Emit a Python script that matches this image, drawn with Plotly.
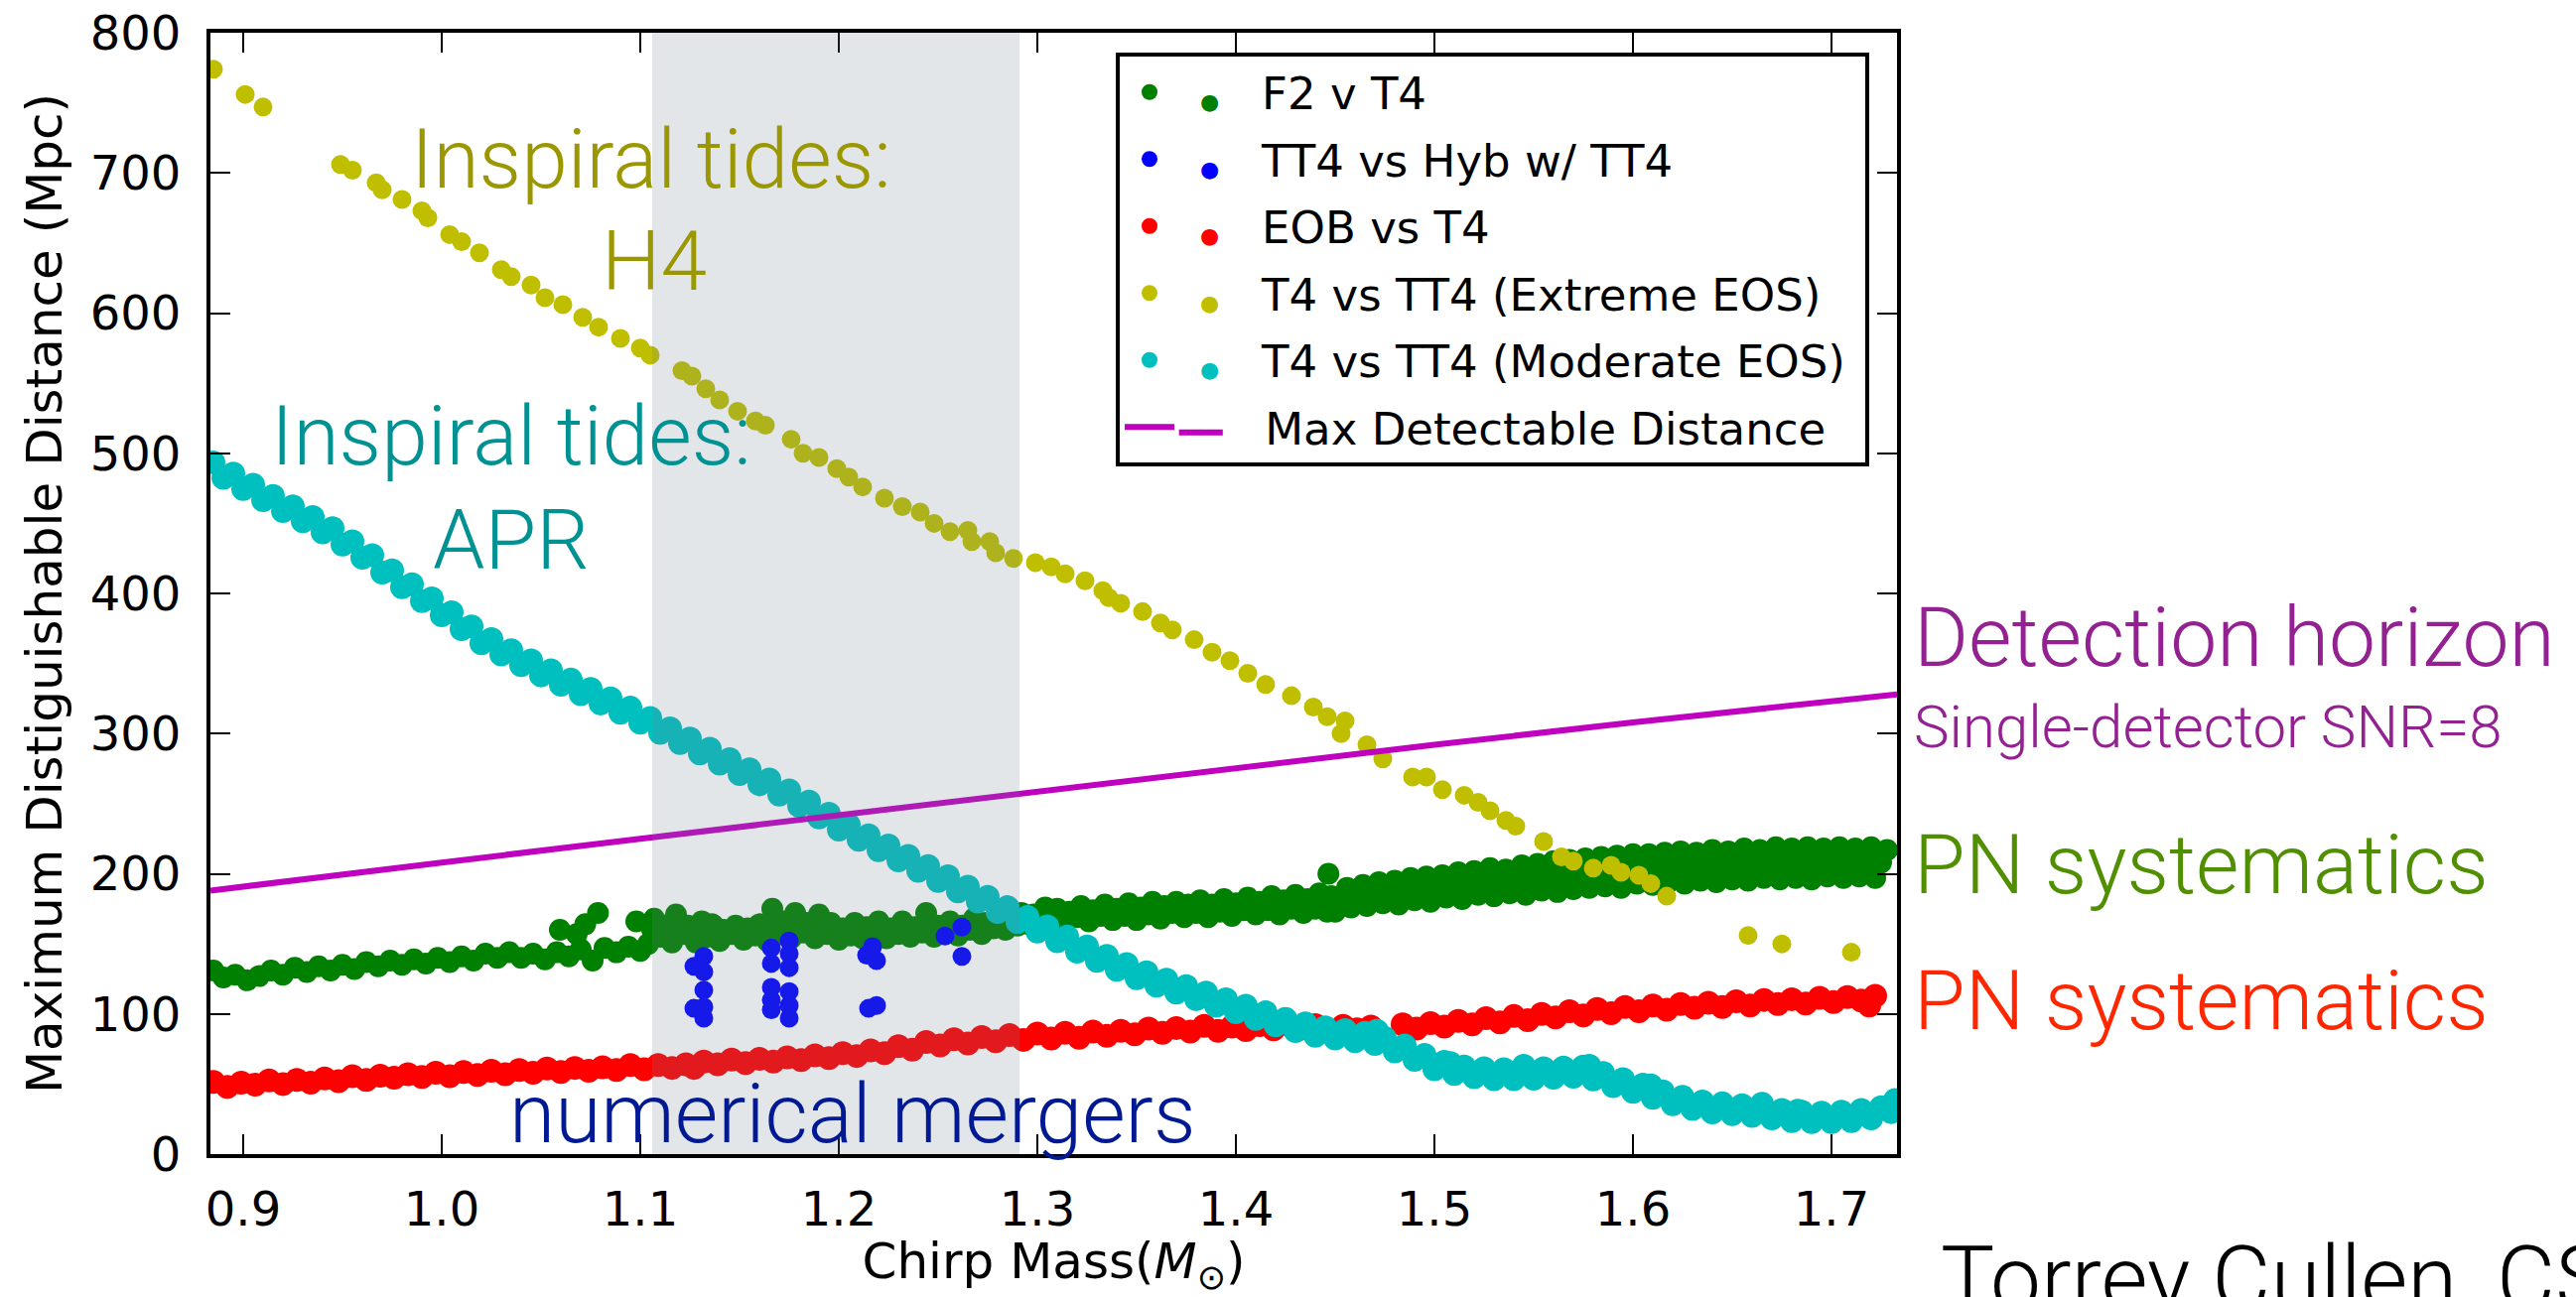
import plotly.graph_objects as go

# ---------------- data ----------------
x_ticks = [0.9, 1.0, 1.1, 1.2, 1.3, 1.4, 1.5, 1.6, 1.7]
y_ticks = [0, 100, 200, 300, 400, 500, 600, 700, 800]
x_range = [0.8835, 1.733]
y_range = [0, 800]
shade_range = [1.106, 1.291]

# F2 v T4 (green) - band, read as several stretches
green_x_left = [0.885, 0.890, 0.896, 0.902, 0.908, 0.914, 0.920, 0.926, 0.932, 0.938,
                0.944, 0.950, 0.956, 0.962, 0.968, 0.974, 0.980, 0.986, 0.992, 0.998,
                1.004, 1.010, 1.016, 1.022, 1.028, 1.034, 1.040, 1.046, 1.052, 1.058,
                1.064, 1.070, 1.076, 1.082, 1.088, 1.094, 1.100]
green_y_left = [131, 126, 128, 124, 127, 131, 128, 133, 130, 134,
                131, 135, 132, 137, 134, 138, 135, 139, 136, 140,
                137, 141, 138, 143, 140, 144, 140, 143, 139, 144,
                141, 146, 138, 147, 144, 148, 145]
green_x_mid = [1.104, 1.106, 1.110, 1.112, 1.116, 1.118, 1.122, 1.124, 1.128, 1.130,
               1.134, 1.136, 1.140, 1.142, 1.146, 1.148, 1.152, 1.154, 1.158, 1.160,
               1.164, 1.166, 1.170, 1.172, 1.176, 1.178, 1.182, 1.184, 1.188, 1.190,
               1.194, 1.196, 1.200, 1.202, 1.206, 1.208, 1.212, 1.214, 1.218, 1.220,
               1.224, 1.226, 1.230, 1.232, 1.236, 1.238, 1.242, 1.244, 1.248, 1.250,
               1.254, 1.256, 1.260, 1.262, 1.266, 1.268, 1.272, 1.274, 1.278, 1.280,
               1.284, 1.286, 1.290, 1.292, 1.296, 1.298]
green_y_mid = [150, 160, 155, 163, 151, 159, 157, 163, 151, 160,
               155, 164, 152, 160, 157, 163, 153, 161, 156, 164,
               152, 161, 157, 166, 154, 162, 158, 165, 154, 161,
               157, 165, 153, 161, 156, 165, 154, 162, 158, 166,
               154, 161, 157, 166, 155, 162, 158, 166, 155, 163,
               159, 166, 156, 163, 160, 168, 157, 165, 161, 170,
               160, 168, 163, 172, 164, 171]
green_x_r1 = [1.302, 1.304, 1.308, 1.310, 1.314, 1.316, 1.320, 1.322, 1.326, 1.328,
              1.332, 1.334, 1.338, 1.340, 1.344, 1.346, 1.350, 1.352, 1.356, 1.358,
              1.362, 1.364, 1.368, 1.370, 1.374, 1.376, 1.380, 1.382, 1.386, 1.388,
              1.392, 1.394, 1.398, 1.400, 1.404, 1.406, 1.410, 1.412, 1.416, 1.418,
              1.422, 1.424, 1.428, 1.430, 1.434, 1.436, 1.440, 1.442, 1.446, 1.448]
green_y_r1 = [166, 176, 168, 175, 165, 173, 169, 177, 166, 174,
              170, 178, 167, 175, 170, 179, 167, 176, 171, 180,
              168, 177, 172, 180, 169, 178, 172, 181, 169, 178,
              173, 182, 170, 179, 174, 183, 171, 180, 174, 184,
              171, 181, 175, 185, 172, 182, 175, 186, 173, 184]
green_x_r2 = [1.450, 1.453, 1.456, 1.458, 1.461, 1.464, 1.466, 1.469, 1.472,
              1.474, 1.477, 1.480, 1.482, 1.485, 1.488, 1.490, 1.493, 1.496,
              1.498, 1.501, 1.504, 1.506, 1.509, 1.512, 1.514, 1.517, 1.520,
              1.522, 1.525, 1.528, 1.530, 1.533, 1.536, 1.538, 1.541, 1.544,
              1.546, 1.549, 1.552, 1.554, 1.557, 1.560, 1.562, 1.565, 1.568,
              1.570, 1.573, 1.576, 1.578, 1.581, 1.584, 1.586, 1.589, 1.592,
              1.594, 1.597, 1.600, 1.602, 1.605, 1.608, 1.610, 1.613, 1.616,
              1.618, 1.621, 1.624, 1.626, 1.629, 1.632, 1.634, 1.637, 1.640,
              1.642, 1.645, 1.648, 1.650, 1.653, 1.656, 1.658, 1.661, 1.664,
              1.666, 1.669, 1.672, 1.674, 1.677, 1.680, 1.682, 1.685, 1.688,
              1.690, 1.693, 1.696, 1.698, 1.701, 1.704, 1.706, 1.709, 1.712,
              1.714, 1.717, 1.720, 1.722, 1.725, 1.728]
green_y_r2 = [173, 182, 190, 176, 185, 192, 177, 186, 194,
              179, 188, 195, 178, 189, 197, 181, 190, 198,
              180, 191, 199, 183, 192, 201, 182, 193, 202,
              185, 194, 204, 184, 195, 203, 186, 196, 206,
              185, 197, 207, 188, 198, 209, 187, 199, 210,
              189, 200, 211, 190, 201, 212, 191, 202, 213,
              190, 203, 214, 193, 204, 214, 192, 203, 215,
              194, 205, 216, 193, 204, 215, 195, 206, 217,
              194, 205, 216, 196, 207, 218, 195, 206, 217,
              197, 207, 219, 196, 208, 218, 197, 207, 219,
              196, 208, 218, 198, 207, 219, 197, 208, 218,
              198, 207, 219, 197, 208, 217]
green_x_out = [1.0595, 1.068, 1.0723, 1.0787, 1.098, 1.107, 1.118, 1.131, 1.137,
               1.1665, 1.178, 1.190, 1.244, 1.4466]
green_y_out = [160, 157, 164, 172, 166, 168, 171, 166, 163,
               175, 172, 171, 172, 200]

# TT4 vs Hyb w/ TT4 (blue)
blue_x = [1.127, 1.132, 1.132, 1.132, 1.127, 1.132, 1.132,
          1.175, 1.166, 1.175, 1.166, 1.175, 1.166, 1.175, 1.166, 1.175, 1.166, 1.175,
          1.217, 1.214, 1.219, 1.215, 1.219,
          1.2535, 1.262, 1.262]
blue_y = [134, 141, 130, 117, 104, 105, 97,
          152, 147, 143, 136, 133, 119, 116, 110, 106, 103, 97,
          148, 142, 138, 104, 106,
          155.5, 162, 141]

# EOB vs T4 (red)
red_x = [0.885, 0.892, 0.899, 0.906, 0.913, 0.920, 0.927, 0.934, 0.941, 0.948,
         0.955, 0.962, 0.969, 0.976, 0.983, 0.990, 0.997, 1.004, 1.011, 1.018,
         1.025, 1.032, 1.039, 1.046, 1.053, 1.060, 1.067, 1.074, 1.081, 1.088,
         1.095, 1.102, 1.109, 1.116, 1.123, 1.127,
         1.132, 1.139, 1.146, 1.153, 1.160, 1.167, 1.174, 1.181, 1.188, 1.195,
         1.202, 1.209, 1.216, 1.223, 1.230, 1.237, 1.244, 1.251, 1.258, 1.265,
         1.272, 1.279, 1.286, 1.293, 1.300, 1.307, 1.314, 1.321, 1.328, 1.335,
         1.342, 1.349, 1.356, 1.363, 1.370, 1.377, 1.384, 1.391, 1.398, 1.405,
         1.412, 1.419, 1.426, 1.433, 1.440, 1.447, 1.454, 1.461, 1.468,
         1.484, 1.491, 1.498, 1.505, 1.512, 1.519, 1.526, 1.533, 1.540, 1.547,
         1.554, 1.561, 1.568, 1.575, 1.582, 1.589, 1.596, 1.603, 1.610, 1.617,
         1.624, 1.631, 1.638, 1.645, 1.652, 1.659, 1.666, 1.673, 1.680, 1.687,
         1.694, 1.701, 1.708, 1.715, 1.719, 1.722]
red_y = [51.5, 48.0, 51.0, 49.5, 52.5, 50.0, 53.0, 51.0, 54.0, 52.0,
         55.5, 53.0, 56.0, 54.5, 57.0, 55.0, 58.0, 55.5, 58.5, 56.5,
         59.5, 57.0, 60.0, 58.0, 61.0, 58.5, 61.5, 59.5, 62.0, 60.0,
         63.5, 60.5, 63.5, 61.5, 64.0, 61.5,
         66.0, 64.0, 67.5, 65.0, 68.0, 66.0, 69.0, 67.0, 70.5, 68.5,
         72.0, 70.0, 74.0, 72.0, 77.0, 74.5, 80.0, 77.5, 82.0, 79.0,
         83.5, 80.5, 85.0, 81.5, 86.0, 82.5, 86.5, 83.0, 87.5, 84.5,
         88.0, 85.5, 89.5, 86.5, 90.0, 87.5, 91.5, 88.0, 91.0, 88.5,
         92.0, 89.0, 92.5, 89.5, 92.0, 88.5, 91.5, 89.0, 91.0,
         92.5, 89.5, 93.5, 91.0, 95.0, 92.5, 97.0, 94.0, 98.5, 95.5,
         100.0, 97.5, 102.0, 99.0, 103.5, 100.5, 105.0, 102.0, 106.0, 103.0,
         107.0, 104.5, 108.0, 105.0, 109.0, 106.0, 110.0, 107.0, 110.5, 107.5,
         111.5, 108.5, 112.0, 109.5, 106.0, 113.0]

# T4 vs TT4 (Extreme EOS) (yellow)
yellow_x = [0.885, 0.901, 0.910, 0.949, 0.955, 0.967, 0.970, 0.980, 0.990, 0.993,
            1.004, 1.010, 1.019, 1.030, 1.035, 1.045, 1.052, 1.061, 1.071, 1.079,
            1.090, 1.100, 1.105, 1.121, 1.126, 1.133, 1.140, 1.149, 1.158, 1.163,
            1.176, 1.182, 1.190, 1.199, 1.205, 1.212, 1.223, 1.232, 1.241, 1.248,
            1.256, 1.265, 1.267, 1.276, 1.279, 1.288, 1.299, 1.307, 1.314, 1.324,
            1.333, 1.336, 1.342, 1.353, 1.362, 1.368, 1.379, 1.388, 1.397, 1.406,
            1.415, 1.428, 1.439, 1.446, 1.453, 1.455, 1.466, 1.474, 1.489, 1.496,
            1.504, 1.515, 1.522, 1.528, 1.536, 1.541, 1.555, 1.564, 1.570, 1.580,
            1.589, 1.594, 1.603, 1.609, 1.617, 1.658, 1.675, 1.710]
yellow_y = [774, 756, 747, 706, 702, 693, 688, 681, 673, 668,
            656, 651, 643, 631, 626, 620, 611, 606, 597, 590,
            582, 575, 570, 559, 555, 546, 538, 530, 523, 520,
            510, 500, 497, 489, 483, 476, 468, 462, 458, 450,
            444, 445, 437, 437, 429, 425, 422, 419, 414, 409,
            402, 397, 393, 387, 379, 374, 367, 358, 352, 343,
            335, 327, 319, 312, 300, 309, 292, 282, 269, 269,
            260, 256, 251, 245, 238, 234, 223, 212, 209, 204,
            206, 201, 199, 193, 184, 156, 150, 144]

# T4 vs TT4 (Moderate EOS) (cyan)
cyan_x = [0.885, 0.890, 0.895, 0.900, 0.905, 0.910, 0.915, 0.920, 0.925, 0.930,
          0.935, 0.940, 0.945, 0.950, 0.955, 0.960, 0.965, 0.970, 0.975, 0.980,
          0.985, 0.990, 0.995, 1.000, 1.005, 1.010, 1.015, 1.020, 1.025, 1.030,
          1.035, 1.040, 1.045, 1.050, 1.055, 1.060, 1.065, 1.070, 1.075, 1.080,
          1.085, 1.090, 1.095, 1.100, 1.105, 1.110, 1.115, 1.120, 1.125, 1.130,
          1.135, 1.140, 1.145, 1.150, 1.155, 1.160, 1.165, 1.170, 1.175, 1.180,
          1.185, 1.190, 1.195, 1.200, 1.205, 1.210, 1.215, 1.220, 1.225, 1.230,
          1.235, 1.240, 1.245, 1.250, 1.255, 1.260, 1.265, 1.270, 1.275, 1.280,
          1.285, 1.290, 1.295, 1.300, 1.305, 1.310, 1.315, 1.320, 1.325, 1.330,
          1.335, 1.340, 1.345, 1.350, 1.355, 1.360, 1.365, 1.370, 1.375, 1.380,
          1.385, 1.390, 1.395, 1.400, 1.405, 1.410, 1.415, 1.420, 1.425, 1.430,
          1.435, 1.440, 1.445, 1.450, 1.455, 1.460, 1.465, 1.470, 1.475, 1.480,
          1.485, 1.490, 1.495, 1.500, 1.505, 1.510, 1.515, 1.520, 1.525, 1.530,
          1.535, 1.540, 1.545, 1.550, 1.555, 1.560, 1.565, 1.570, 1.575, 1.580,
          1.585, 1.590, 1.595, 1.600, 1.605, 1.610, 1.615, 1.620, 1.625, 1.630,
          1.635, 1.640, 1.645, 1.650, 1.655, 1.660, 1.665, 1.670, 1.675, 1.680,
          1.685, 1.690, 1.695, 1.700, 1.705, 1.710, 1.715, 1.720, 1.725, 1.730,
          1.732, 1.471, 1.508, 1.545, 1.578, 1.609, 1.665, 1.683]
cyan_y = [493.5, 482.5, 485.5, 474.5, 477.5, 466.5, 469.5, 458.8, 462.2, 451.5,
          454.5, 443.5, 446.5, 434.8, 437.2, 425.5, 427.2, 414.8, 416.5, 404.5,
          406.5, 394.5, 396.5, 384.5, 386.5, 374.5, 376.5, 364.5, 367.5, 356.5,
          359.5, 348.8, 352.2, 341.5, 345.2, 334.8, 338.5, 328.2, 331.8, 321.5,
          325.2, 314.8, 318.5, 307.8, 311.2, 300.5, 303.8, 293.2, 296.5, 285.8,
          289.2, 278.5, 281.8, 271.2, 274.5, 263.8, 267.2, 256.5, 259.5, 248.5,
          251.5, 240.2, 242.8, 231.5, 234.8, 224.2, 227.5, 216.8, 220.2, 209.5,
          212.8, 202.2, 205.5, 194.8, 198.2, 187.5, 190.8, 180.2, 183.5, 172.8,
          176.2, 165.5, 169.2, 158.8, 162.5, 151.8, 155.2, 144.5, 148.2, 137.8,
          141.5, 131.5, 135.5, 125.5, 129.8, 120.2, 124.5, 115.2, 119.8, 110.5,
          115.2, 105.8, 110.5, 101.2, 105.8, 96.5, 101.2, 91.8, 96.5, 87.8,
          93.2, 84.5, 90.5, 82.5, 88.5, 80.5, 86.5, 78.5, 82.8, 73.2,
          77.5, 67.2, 70.8, 60.5, 65.8, 57.2, 62.5, 54.8, 61.2, 53.5,
          60.5, 53.5, 60.5, 53.8, 61.2, 54.5, 61.8, 55.2, 62.5, 53.2,
          57.8, 48.5, 53.5, 44.5, 49.5, 40.2, 44.8, 35.5, 40.8, 32.2,
          37.5, 29.8, 36.2, 28.5, 34.8, 27.2, 33.5, 25.5, 31.5, 23.5,
          30.2, 22.8, 29.5, 22.8, 30.2, 23.5, 31.5, 25.5, 33.5, 30.0,
          38.5, 88, 65, 63, 63, 49, 36, 31]

# Max Detectable Distance (magenta line)
det_x = [0.8835, 0.95, 1.0, 1.1, 1.2, 1.3, 1.4, 1.5, 1.6, 1.7, 1.733]
det_y = [188, 199, 208, 225, 242, 259, 275, 292, 308, 323, 328]

# ---------------- figure ----------------
C_GREEN, C_BLUE, C_RED, C_YEL, C_CYAN, C_MAG = '#008000', '#0000FF', '#FF0000', '#BFBF00', '#00BFBF', '#BF00BF'


def leg(name, color, tail=''):
    # matplotlib-style legend entry: a second marker drawn before the label
    return ('<span style="color:%s;font-size:22px">&nbsp;&nbsp;&nbsp;●</span>'
            '&nbsp;&nbsp;&nbsp;%s%s' % (color, name, tail))


fig = go.Figure()
fig.add_trace(go.Scatter(
    x=green_x_left + green_x_mid + green_x_r1 + green_x_r2 + green_x_out,
    y=green_y_left + green_y_mid + green_y_r1 + green_y_r2 + green_y_out,
    mode='markers', name=leg('F2 v T4', C_GREEN), legendgroup='g1',
    marker=dict(color=C_GREEN, size=22)))
fig.add_trace(go.Scatter(x=blue_x, y=blue_y, mode='markers', name=leg('TT4 vs Hyb w/ TT4', C_BLUE),
                         legendgroup='g2', marker=dict(color=C_BLUE, size=19)))
fig.add_trace(go.Scatter(x=red_x, y=red_y, mode='markers', name=leg('EOB vs T4', C_RED),
                         legendgroup='g3', marker=dict(color=C_RED, size=24)))
fig.add_trace(go.Scatter(x=yellow_x, y=yellow_y, mode='markers',
                         name=leg('T4 vs TT4 (Extreme EOS)', C_YEL),
                         legendgroup='g4', marker=dict(color=C_YEL, size=19)))
fig.add_trace(go.Scatter(x=cyan_x, y=cyan_y, mode='markers',
                         name=leg('T4 vs TT4 (Moderate EOS)', C_CYAN, '&nbsp;'),
                         legendgroup='g5', marker=dict(color=C_CYAN, size=24)))
fig.add_trace(go.Scatter(x=det_x, y=det_y, mode='lines',
                         name=('<span style="color:%s;font-size:36px">━━</span>' % C_MAG)
                              + '&nbsp;' * 3 + 'Max Detectable Distance',
                         legendgroup='g6', line=dict(color=C_MAG, width=6)))

ann_font = 'Roboto'
annotations = [
    dict(text='Inspiral tides:', x=1.1053, y=710, color='#9a9700', size=84),
    dict(text='H4', x=1.1068, y=637, color='#9a9700', size=84),
    dict(text='Inspiral tides:', x=1.035, y=512, color='#009193', size=84),
    dict(text='APR', x=1.035, y=438, color='#009193', size=84),
    dict(text='numerical mergers', x=1.2065, y=29, color='#011993', size=84),
]
for a in annotations:
    fig.add_annotation(text=a['text'], x=a['x'], y=a['y'], xref='x', yref='y',
                       showarrow=False, xanchor='center', yanchor='middle',
                       font=dict(family=ann_font, size=a['size'], color=a['color'], weight=300))

side_labels = [
    dict(text='Detection horizon', y=0.461, color='#942192', size=84),
    dict(text='Single-detector SNR=8', y=0.3814, color='#942192', size=60),
    dict(text='PN systematics', y=0.2584, color='#4F8F00', size=84),
    dict(text='PN systematics', y=0.1363, color='#FF2600', size=84),
]
for a in side_labels:
    fig.add_annotation(text=a['text'], x=1.0088, y=a['y'], xref='paper', yref='paper',
                       showarrow=False, xanchor='left', yanchor='middle',
                       font=dict(family=ann_font, size=a['size'], color=a['color'], weight=300))
fig.add_annotation(text='Torrey Cullen, CSUF', x=1.0248, y=-0.1112, xref='paper', yref='paper',
                   showarrow=False, xanchor='left', yanchor='middle',
                   font=dict(family=ann_font, size=91, color='black', weight=300))

fig.add_shape(type='rect', xref='x', yref='paper', x0=shade_range[0], x1=shade_range[1],
              y0=0, y1=1, fillcolor='rgba(112,128,144,0.2)', line=dict(width=0), layer='above')

axis_common = dict(ticks='inside', ticklen=20, tickwidth=2, tickcolor='black',
                   showline=True, linewidth=4, linecolor='black', mirror='ticks',
                   showgrid=False, zeroline=False, automargin=False,
                   tickfont=dict(size=48, family='DejaVu Sans', color='black'))

fig.update_layout(
    width=2595, height=1307,
    margin=dict(l=212, r=684, t=33, b=144, autoexpand=False),
    plot_bgcolor='white', paper_bgcolor='white',
    font=dict(family='DejaVu Sans', color='black', size=48),
    xaxis=dict(range=x_range, tickvals=x_ticks, tickformat='.1f', ticklabelstandoff=10,
               title=dict(text='Chirp Mass(<i>M</i><sub>⊙</sub>)',
                          font=dict(size=50), standoff=29),
               **axis_common),
    yaxis=dict(range=y_range, tickvals=y_ticks, ticklabelstandoff=16,
               title=dict(text='Maximum Distiguishable Distance (Mpc)',
                          font=dict(size=50), standoff=13),
               **axis_common),
    legend=dict(x=0.5368, y=0.9823, xanchor='left', yanchor='top',
                bgcolor='white', bordercolor='black', borderwidth=4,
                font=dict(size=45, family='DejaVu Sans', color='black'),
                itemwidth=50, tracegroupgap=6),
)

fig.write_html("out.html", config={'displayModeBar': False},
               post_script="document.body.style.margin='0';")
